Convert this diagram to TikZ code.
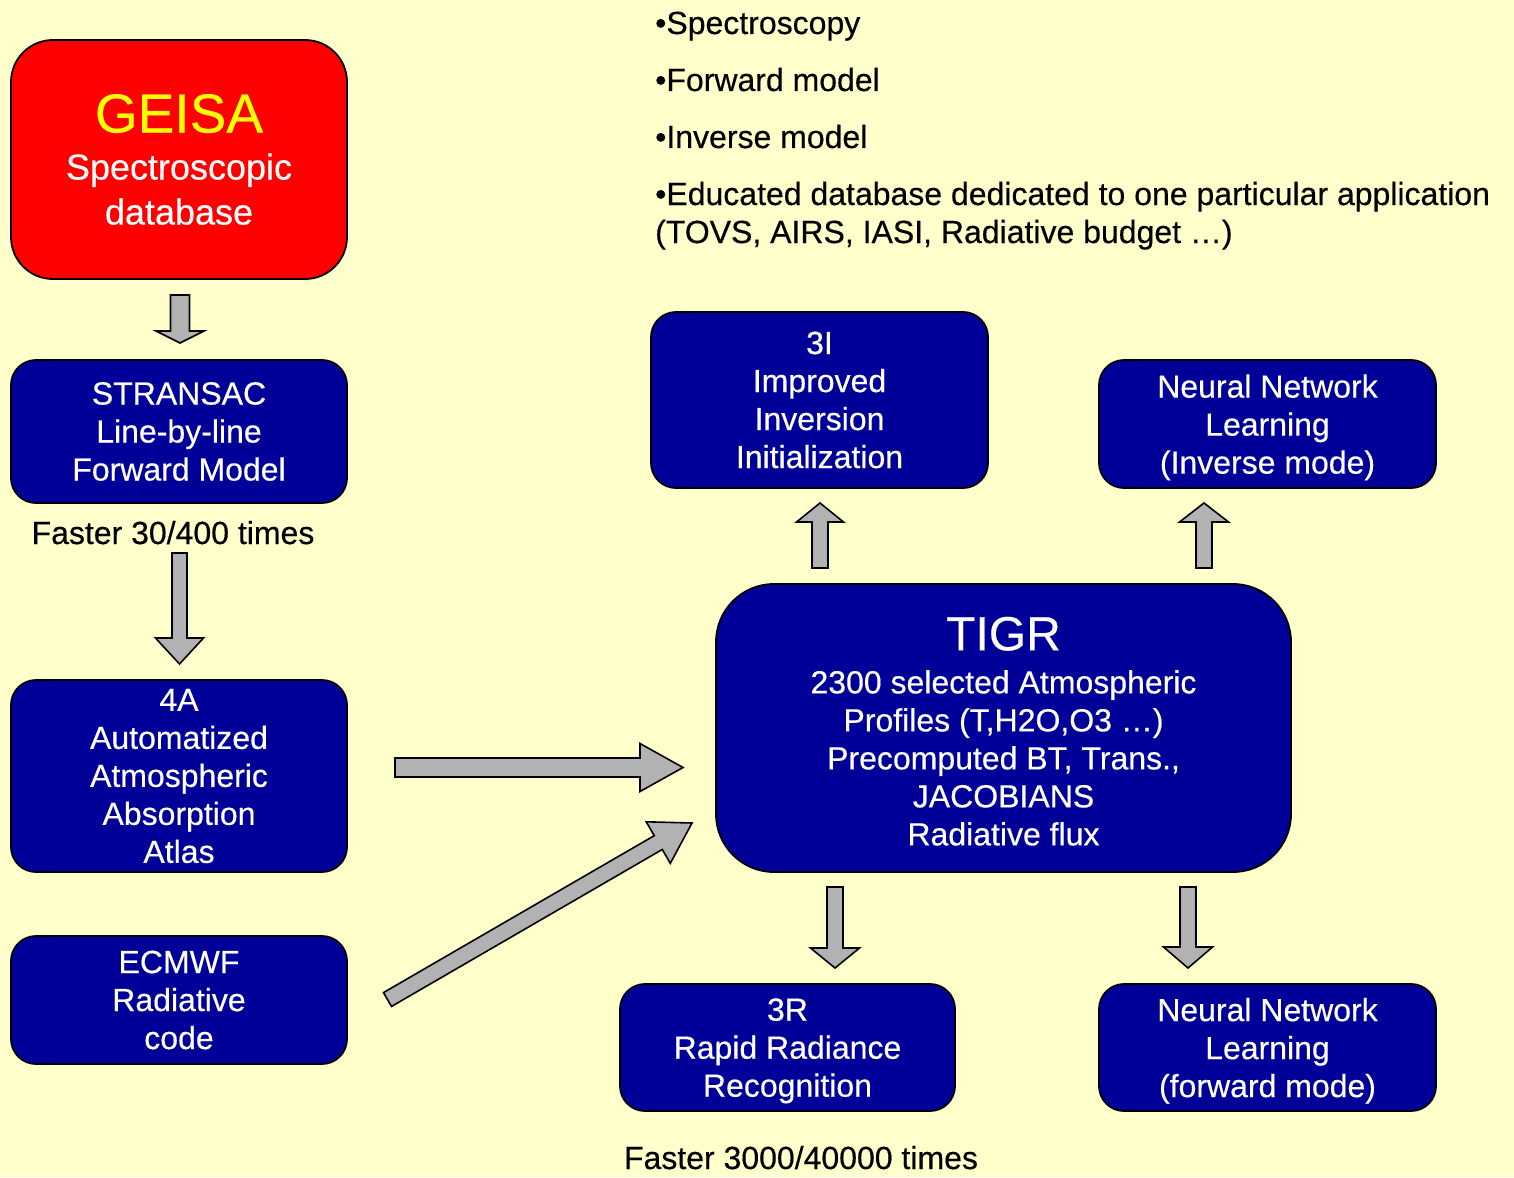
\documentclass[tikz,border=0pt]{standalone}
\usepackage{fontspec}
\setmainfont{Liberation Sans}[FakeBold=0.4]
\usetikzlibrary{calc}
\definecolor{bgyellow}{HTML}{FFFFCC}
\definecolor{boxblue}{HTML}{000099}
\definecolor{arrowgray}{HTML}{B2B2B2}
\definecolor{geisared}{HTML}{FF0000}
\definecolor{geisayellow}{HTML}{FFFF00}
\newcommand\bkarrow[5]{%
  \coordinate (bkH) at ($(#2)!#5pt!(#1)$);
  \draw[blockarrow] ($(#1)!#3pt!90:(#2)$) -- ($(bkH)!#3pt!90:(#2)$) -- ($(bkH)!#4pt!90:(#2)$)
     -- (#2) -- ($(bkH)!#4pt!-90:(#2)$) -- ($(bkH)!#3pt!-90:(#2)$) -- ($(#1)!#3pt!-90:(#2)$) -- cycle;
}
\newcommand\nodepth[1]{\raisebox{0pt}[\height][0pt]{#1}}
\begin{document}
\begin{tikzpicture}[x=1pt,y=-1pt,
  box/.style={draw=black, line width=1.8pt, fill=boxblue, rounded corners=25pt, text=white,
    align=center, inner sep=0pt, font=\fontsize{32}{38}\selectfont},
  blockarrow/.style={draw=black, line width=1.6pt, fill=arrowgray, line join=miter},
  plain/.style={text=black, inner sep=0pt, font=\fontsize{32}{38}\selectfont}]
\fill[bgyellow] (0,0) rectangle (1514,1177);
\useasboundingbox (0,0) rectangle (1514,1177);

% boxes
\node[box, fill=geisared, rounded corners=42pt, minimum width=336pt, minimum height=239pt,
  font=\fontsize{36}{45}\selectfont] (geisa) at (179,159.5)
  {{\fontsize{55}{60}\selectfont\color{geisayellow}GEISA}\\[2pt]Spectroscopic\\database};
\node[box, minimum width=336pt, minimum height=143pt] (stransac) at (179,431.5)
  {STRANSAC\\Line-by-line\\Forward Model};
\node[box, minimum width=336pt, minimum height=192pt] (fourA) at (179,776)
  {4A\\Automatized\\Atmospheric\\Absorption\\Atlas};
\node[box, minimum width=336pt, minimum height=128pt] (ecmwf) at (179,1000)
  {ECMWF\\Radiative\\code};
\node[box, minimum width=337pt, minimum height=176pt] (threeI) at (819.5,400)
  {3I\\Improved\\Inversion\\Initialization};
\node[box, minimum width=337pt, minimum height=128pt] (nninv) at (1267.5,424)
  {Neural Network\\Learning\\\nodepth{(Inverse mode)}};
\node[box, rounded corners=58pt, minimum width=575pt, minimum height=288pt] (tigr) at (1003.5,728)
  {{\fontsize{48}{52}\selectfont TIGR\rule{0pt}{40pt}}\\[5pt]2300 selected Atmospheric\\Profiles (T,H2O,O3 …)\\Precomputed BT, Trans.,\\JACOBIANS\\Radiative flux};
\node[box, minimum width=335pt, minimum height=127pt] (threeR) at (787.5,1047.5)
  {3R\\Rapid Radiance\\\nodepth{Recognition}};
\node[box, minimum width=337pt, minimum height=127pt] (nnfwd) at (1267.5,1047.5)
  {Neural Network\\Learning\\\nodepth{(forward mode)}};

% plain texts
\node[plain, anchor=base] (faster1) at (173,544) {Faster 30/400 times};
\node[plain, anchor=base] (faster2) at (801,1169) {Faster 3000/40000 times};
\node[plain, anchor=base west] (b1) at (655,34) {•Spectroscopy};
\node[plain, anchor=base west] (b2) at (655,91) {•Forward model};
\node[plain, anchor=base west] (b3) at (655,148) {•Inverse model};
\node[plain, anchor=base west] (b4) at (655,205) {•Educated database dedicated to one particular application};
\node[plain, anchor=base west] (b5) at (655,243) {(TOVS, AIRS, IASI, Radiative budget …)};

% arrow end points
\coordinate (a1s) at (180,295);   \coordinate (a1e) at (180,343);
\coordinate (a2s) at (179.5,553); \coordinate (a2e) at (179.5,664);
\coordinate (a3s) at (395,767.5); \coordinate (a3e) at (683,767.5);
\coordinate (a4s) at (387.5,999.5); \coordinate (a4e) at (692,823);
\coordinate (a5s) at (820,568);   \coordinate (a5e) at (820,503);
\coordinate (a6s) at (1204,568);  \coordinate (a6e) at (1204,503);
\coordinate (a7s) at (835,887);   \coordinate (a7e) at (835,968);
\coordinate (a8s) at (1188,887);  \coordinate (a8e) at (1188,968);

\bkarrow{a1s}{a1e}{9.5}{24}{12}
\bkarrow{a2s}{a2e}{7.5}{24}{26}
\bkarrow{a3s}{a3e}{9.5}{24}{43}
\bkarrow{a4s}{a4e}{8}{24}{39}
\bkarrow{a5s}{a5e}{8}{23.5}{19}
\bkarrow{a6s}{a6e}{8}{24.5}{19}
\bkarrow{a7s}{a7e}{8}{24.5}{20}
\bkarrow{a8s}{a8e}{8}{24.5}{21}
\end{tikzpicture}
\end{document}
